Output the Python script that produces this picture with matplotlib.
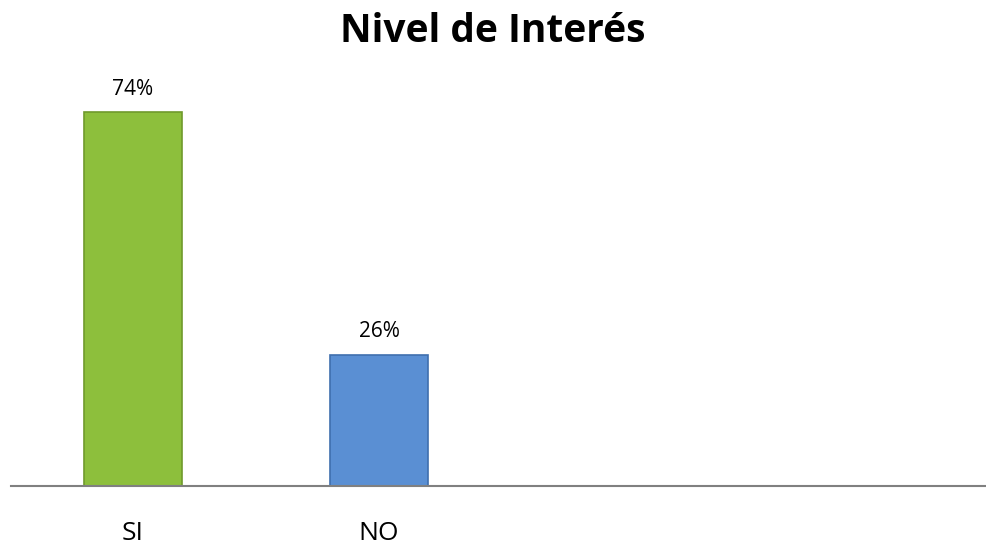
import matplotlib.pyplot as plt

categorias = ["SI", "NO"]
porcentajes = [74, 26]
colores = ["#8dbf3c", "#5a8fd3"]
bordes = ["#6f9a2c", "#3f6fae"]

plt.rcParams['font.family'] = ['Open Sans', 'DejaVu Sans']

fig = plt.figure(figsize=(9.86, 5.49), dpi=100)
ax = fig.add_axes([0.011, 0.1148, 0.989, 0.736])

x = list(range(len(categorias)))
barras = ax.bar(x, porcentajes, width=0.4, color=colores, edgecolor=bordes,
                linewidth=1.2)

for xi, v in zip(x, porcentajes):
    ax.text(xi, v + 2.5, f"{v}%", ha="center", va="bottom", fontsize=15)

ax.set_xlim(-0.496, 3.467)
ax.set_ylim(0, 80)
ax.set_xticks(x)
ax.set_xticklabels(categorias, fontsize=19)
ax.tick_params(axis="x", length=0, pad=25)
ax.set_yticks([])
for lado in ["top", "right", "left"]:
    ax.spines[lado].set_visible(False)
ax.spines["bottom"].set_color("#808080")
ax.spines["bottom"].set_linewidth(1.5)

fig.suptitle("Nivel de Interés", fontsize=28, fontweight="bold", y=0.978)

fig.savefig("out.png", dpi=100)
